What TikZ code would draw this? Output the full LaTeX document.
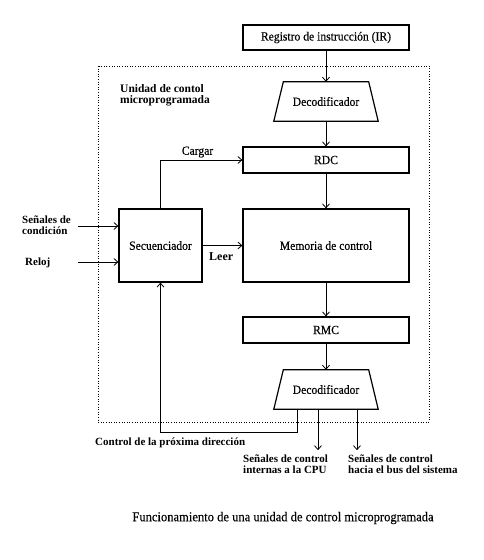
\documentclass[tikz,border=0pt]{standalone}
\usepackage{fontspec}
\setmainfont{Liberation Serif}[FakeStretch=0.93, FakeBold=0.3]
\newfontfamily\lblfont{Liberation Serif}
\usetikzlibrary{arrows.meta}
\begin{document}
\begin{tikzpicture}[x=1pt,y=-1pt,
  every node/.style={font=\fontsize{12.5}{11.5}\selectfont, inner sep=0pt},
  box/.style={draw, line width=1.2pt, minimum width=166pt},
  dec/.style={minimum width=104pt, minimum height=39pt},
  arr/.style={line width=0.8pt, -{Straight Barb[length=4pt,width=7pt]}},
  lbl/.style={align=left, anchor=west, font=\lblfont\fontsize{11}{11}\selectfont\bfseries}]
\useasboundingbox (0,0) rectangle (484,560);
\draw[line width=0.6pt, dotted] (98,66) rectangle (429,422);
\node[box, minimum height=25pt] (ir) at (326,37.5) {Registro de instrucción (IR)};
\node[dec] (d1) at (326,101.5) {Decodificador};
\draw[line width=1.2pt] (d1.south west) -- (d1.south east) -- ([xshift=-9.5pt]d1.north east) -- ([xshift=9.5pt]d1.north west) -- cycle;
\node[box, minimum height=26pt] (rdc) at (326,160) {RDC};
\node[box, minimum height=73pt] (mem) at (326,245.5) {Memoria de control};
\node[box, minimum width=83pt, minimum height=73pt] (sec) at (160.5,245.5) {Secuenciador};
\node[box, minimum height=26pt] (rmc) at (326,330) {RMC};
\node[dec] (d2) at (326,389.5) {Decodificador};
\draw[line width=1.2pt] (d2.south west) -- (d2.south east) -- ([xshift=-9.5pt]d2.north east) -- ([xshift=9.5pt]d2.north west) -- cycle;
\node[lbl, font=\lblfont\fontsize{11.5}{11}\selectfont\bfseries] (ucm) at (120,95) {Unidad de contol\\microprogramada};
\draw[arr] (ir) -- (d1);
\draw[arr] (d1) -- (rdc);
\draw[arr] (rdc) -- (mem);
\draw[arr] (mem) -- (rmc);
\draw[arr] (rmc) -- (d2);
\draw[arr] (sec.north) |- (rdc.west);
\node (cg) at (197.5,152) {Cargar};
\draw[arr] (sec.east) -- (mem.west);
\node[lbl, font=\lblfont\fontsize{12}{12}\selectfont\bfseries] (leer) at (209,257) {Leer};
\coordinate (cin) at (78,226);
\coordinate (rin) at (78,262);
\draw[arr] (cin) -- (cin -| sec.west);
\draw[arr] (rin) -- (rin -| sec.west);
\node[lbl] (cond) at (22,225) {Señales de\\condición};
\node[lbl] (rel) at (25,263) {Reloj};
\coordinate (o1) at ([xshift=-29pt]d2.south);
\coordinate (o2) at ([xshift=-8pt]d2.south);
\coordinate (o3) at ([xshift=31pt]d2.south);
\draw[arr] (o1) -- ++(0,23) -| (sec.south);
\draw[arr] (o2) -- ++(0,41);
\draw[arr] (o3) -- ++(0,41);
\node[lbl] (cpd) at (95,443) {Control de la próxima dirección};
\node[lbl] (sci) at (243,464) {Señales de control\\internas a la CPU};
\node[lbl] (scb) at (348,464) {Señales de control\\hacia el bus del sistema};
\node[font=\fontsize{13.5}{13}\selectfont] (cap) at (283,518) {Funcionamiento de una unidad de control microprogramada};
\end{tikzpicture}
\end{document}
